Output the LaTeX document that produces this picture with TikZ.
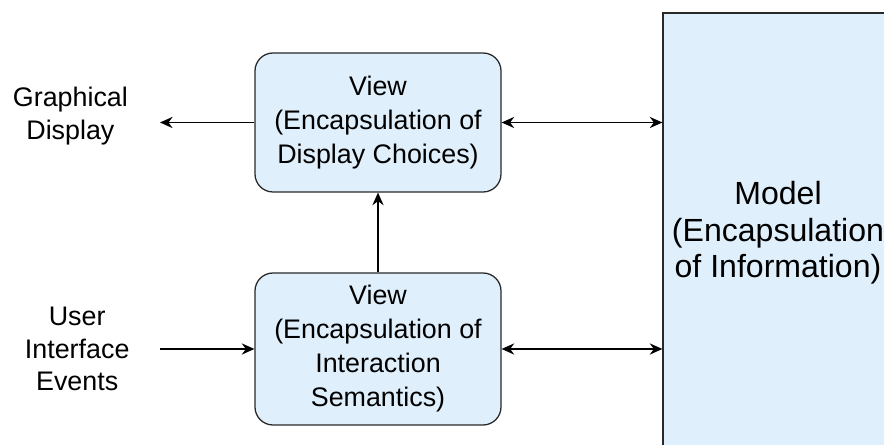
\documentclass[tikz,border=0pt]{standalone}
\usepackage{fontspec}
\setmainfont{Liberation Sans}
\usetikzlibrary{arrows.meta}
\definecolor{boxblue}{RGB}{223,239,251}
\definecolor{edgegray}{RGB}{40,40,40}

\begin{document}
\begin{tikzpicture}[
    viewbox/.style={draw=edgegray, line width=0.9pt, fill=boxblue, rounded corners=0.45cm,
        minimum width=6.15cm, align=center, font=\fontsize{19.1}{24.2}\selectfont},
    modelbox/.style={draw=edgegray, line width=0.9pt, fill=boxblue, minimum width=5.75cm,
        minimum height=11cm, align=center, font=\fontsize{22.8}{26}\selectfont},
    lbl/.style={align=center, inner sep=0pt, font=\fontsize{19.1}{23.4}\selectfont},
    conn/.style={line width=0.8pt, -{Stealth[length=9pt, width=8pt, inset=3pt]}},
    biconn/.style={line width=0.8pt, {Stealth[length=9pt, width=8pt, inset=3pt]}-{Stealth[length=9pt, width=8pt, inset=3pt]}}
]
    \path[use as bounding box, clip] (0, 0) rectangle (22.1, 11.125);
    % boxes
    \node[viewbox, minimum height=3.475cm] (display) at (9.45, 8.0625)
        {View\\(Encapsulation of\\Display Choices)};
    \node[viewbox, minimum height=3.8cm] (interact) at (9.45, 2.4)
        {View\\(Encapsulation of\\Interaction\\Semantics)};
    \node[modelbox] (model) at (19.45, 5.3)
        {Model\\(Encapsulation\\of Information)};
    % outside world
    \node[lbl] (graph) at (1.76, 8.225) {Graphical\\Display};
    \node[lbl] (events) at (1.93, 2.4) {User\\Interface\\Events};
    \coordinate (graphend) at (4.0, 8.0625);
    \coordinate (eventsstart) at (4.0, 2.4);
    % connectors
    \draw[conn] (display.west) -- (graphend);
    \draw[conn] (eventsstart) -- (interact.west);
    \draw[conn] (interact.north) -- (display.south);
    \draw[biconn] (display.east) -- (display.east -| model.west);
    \draw[biconn] (interact.east) -- (interact.east -| model.west);
\end{tikzpicture}
\end{document}
